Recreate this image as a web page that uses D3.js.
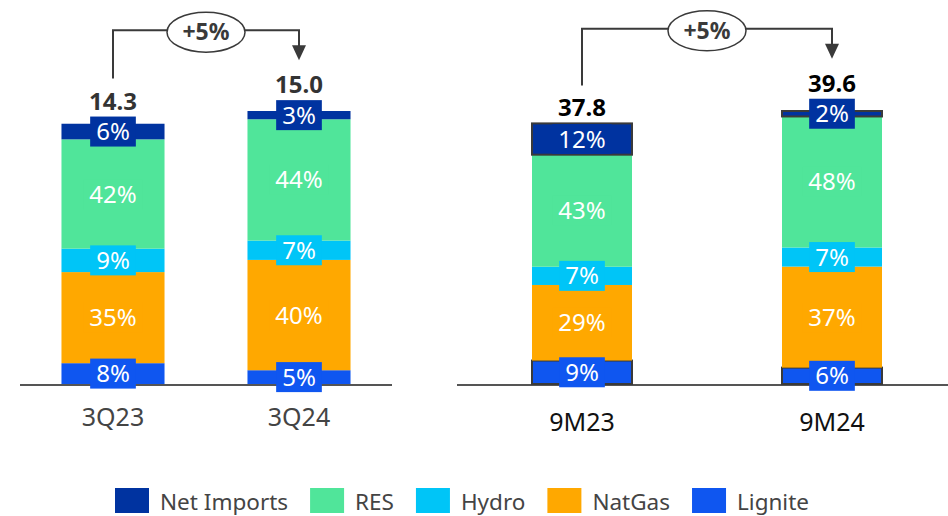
<!DOCTYPE html>
<html lang="en">
<head>
<meta charset="utf-8">
<script src="https://cdn.jsdelivr.net/npm/d3@7"></script>
<style>
  body { margin: 0; background: #fff; }
  svg { display: block; font-family: "Noto Sans", sans-serif; }
</style>
</head>
<body>
<svg width="948" height="516"></svg>
<script>
// data
const sources = ['Lignite', 'NatGas', 'Hydro', 'RES', 'Net Imports']
const legendOrder = ['Net Imports', 'RES', 'Hydro', 'NatGas', 'Lignite']
const colors = ['#0f56f0', '#ffa800', '#00c5f7', '#50e59a', '#0033a0']

const quarterCats = ['3Q23', '3Q24']
const quarterTotals = [14.3, 15.0]
const quarterShares = [
    [8, 35, 9, 42, 6],
    [5, 40, 7, 44, 3]
]
const quarterGrowth = '+5%'

const nineMCats = ['9M23', '9M24']
const nineMTotals = [37.8, 39.6]
const nineMShares = [
    [9, 29, 7, 43, 12],
    [6, 37, 7, 48, 2]
]
const nineMGrowth = '+5%'

const svg = d3.select('svg')
const color = d3.scaleOrdinal().domain(sources).range(colors)
const baseY = 384
const topY = 111

function panel(cats, totals, shares, growth, opt) {
    const g = svg.append('g')
    const x = d3.scaleBand()
        .domain(cats)
        .range(opt.range)
        .paddingInner(opt.pad)
        .paddingOuter(opt.pad / 2)
    const y = d3.scaleLinear()
        .domain([0, d3.max(totals)])
        .range([baseY, topY])

    // build stacked rows
    const rows = cats.map((c, i) => {
        const row = { cat: c }
        const sum = d3.sum(shares[i])
        sources.forEach((s, j) => row[s] = shares[i][j] / sum * totals[i])
        return row
    })
    const stacked = d3.stack().keys(sources)(rows)

    // axis line
    g.append('line')
        .attr('x1', opt.axis[0]).attr('x2', opt.axis[1])
        .attr('y1', baseY + 1).attr('y2', baseY + 1)
        .attr('stroke', '#555').attr('stroke-width', 2)

    const layer = g.selectAll('g.layer')
        .data(stacked)
        .enter().append('g')
        .attr('class', 'layer')
        .attr('fill', d => color(d.key))

    layer.selectAll('rect')
        .data(d => d.map(v => Object.assign(v, { key: d.key })))
        .enter().append('rect')
        .attr('x', d => x(d.data.cat))
        .attr('width', x.bandwidth())
        .attr('y', d => y(d[1]))
        .attr('height', d => y(d[0]) - y(d[1]))
        .attr('stroke', d => opt.outline && (d.key == 'Lignite' || d.key == 'Net Imports') ? '#3a3a3a' : 'none')
        .attr('stroke-width', 2)

    // segment labels in boxes
    const boxTops = cats.map(() => Infinity)
    stacked.forEach((layerData, j) => {
        layerData.forEach((d, i) => {
            const cx = x(d.data.cat) + x.bandwidth() / 2
            const cy = (y(d[0]) + y(d[1])) / 2
            const lg = g.append('g')
            const t = lg.append('text')
                .attr('x', cx).attr('y', cy + 8.5)
                .attr('text-anchor', 'middle')
                .attr('fill', '#fff')
                .attr('font-size', 24)
                .text(shares[i][j] + '%')
            const w = t.node().getComputedTextLength() + 12
            lg.insert('rect', 'text')
                .attr('x', cx - w / 2).attr('y', cy - 15)
                .attr('width', w).attr('height', 30)
                .attr('fill', color(layerData.key))
            boxTops[i] = Math.min(boxTops[i], cy - 15)
        })
    })

    // totals
    const labelBase = cats.map((c, i) => Math.min(boxTops[i], y(totals[i])) - 7)
    g.selectAll('text.total')
        .data(cats)
        .enter().append('text')
        .attr('class', 'total')
        .attr('x', d => x(d) + x.bandwidth() / 2)
        .attr('y', (d, i) => labelBase[i])
        .attr('text-anchor', 'middle')
        .attr('font-size', 24)
        .attr('font-weight', 'bold')
        .attr('fill', opt.totalColor)
        .text((d, i) => totals[i].toFixed(1))

    // category labels
    g.selectAll('text.cat')
        .data(cats)
        .enter().append('text')
        .attr('class', 'cat')
        .attr('x', d => x(d) + x.bandwidth() / 2)
        .attr('y', opt.catY)
        .attr('text-anchor', 'middle')
        .attr('font-size', 25)
        .attr('fill', opt.catColor)
        .text(d => d)

    // growth bracket
    const x0 = x(cats[0]) + x.bandwidth() / 2
    const x1 = x(cats[1]) + x.bandwidth() / 2
    const yStart = labelBase[0] - 31
    const yTip = labelBase[1] - 33
    const yLine = Math.min(yStart, yTip) - 30
    g.append('path')
        .attr('d', `M${x0},${yStart}V${yLine}H${x1}V${yTip - 14}`)
        .attr('fill', 'none')
        .attr('stroke', '#3a3a3a')
        .attr('stroke-width', 2)
    g.append('path')
        .attr('d', `M${x1 - 7},${yTip - 15}L${x1 + 7},${yTip - 15}L${x1},${yTip}Z`)
        .attr('fill', '#3a3a3a')
    const ex = (x0 + x1) / 2
    g.append('ellipse')
        .attr('cx', ex).attr('cy', yLine + 2)
        .attr('rx', 39).attr('ry', 20)
        .attr('fill', '#fff')
        .attr('stroke', '#3a3a3a')
        .attr('stroke-width', 1.5)
    g.append('text')
        .attr('x', ex).attr('y', yLine + 10)
        .attr('text-anchor', 'middle')
        .attr('font-size', 23)
        .attr('font-weight', 'bold')
        .attr('fill', '#3a3a3a')
        .text(growth)
}

panel(quarterCats, quarterTotals, quarterShares, quarterGrowth, {
    range: [20, 392], pad: 0.446, axis: [20, 392], outline: false,
    totalColor: '#333', catColor: '#444', catY: 426
})
panel(nineMCats, nineMTotals, nineMShares, nineMGrowth, {
    range: [457, 957], pad: 0.6, axis: [457, 948], outline: true,
    totalColor: '#000', catColor: '#111', catY: 431
})

// legend
const legend = svg.append('g')
let lx = 115
legendOrder.forEach(k => {
    legend.append('rect')
        .attr('x', lx).attr('y', 488)
        .attr('width', 34).attr('height', 25)
        .attr('fill', color(k))
    const t = legend.append('text')
        .attr('x', lx + 45).attr('y', 510)
        .attr('font-size', 22.5)
        .attr('fill', '#444')
        .text(k)
    lx += 45 + t.node().getComputedTextLength() + 22
})
</script>
</body>
</html>
